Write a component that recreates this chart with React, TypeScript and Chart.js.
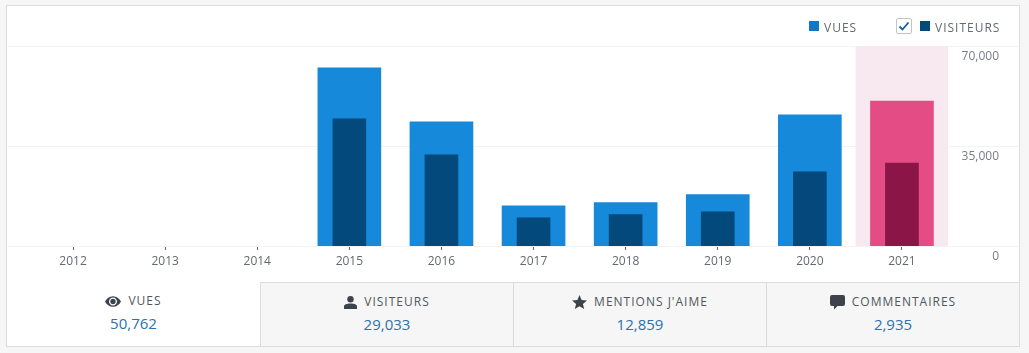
import React, { useEffect, useRef } from "react";
import { Chart, registerables } from "chart.js";

Chart.register(...registerables);

const years = ["2012", "2013", "2014", "2015", "2016", "2017", "2018", "2019", "2020", "2021"];
const vues = [null, null, null, 62400, 43500, 14100, 15200, 18000, 45900, 50762];
const visiteurs = [null, null, null, 44500, 31900, 9900, 11000, 12000, 26000, 29033];
const highlight = [null, null, null, null, null, null, null, null, null, 70000];
const yTicks = [0, 35000, 70000];

const tabLabels = ["VUES", "VISITEURS", "MENTIONS J'AIME", "COMMENTAIRES"];
const tabValues = ["50,762", "29,033", "12,859", "2,935"];

const FONT = '"Open Sans", "Noto Sans", sans-serif';
const BLUE = "#1689db";
const NAVY = "#03497c";
const PINK = "#e34c84";
const MAROON = "#8b1546";
const BAND = "#f8e8ef";

const fullWidthGrid = {
  id: "fullWidthGrid",
  beforeDatasetsDraw(chart: any) {
    const { ctx, scales, width } = chart;
    ctx.save();
    ctx.strokeStyle = "#f3f3f4";
    ctx.lineWidth = 1;
    yTicks.forEach((v) => {
      const y = Math.round(scales.y.getPixelForValue(v)) + 0.5;
      ctx.beginPath();
      ctx.moveTo(1, y);
      ctx.lineTo(width, y);
      ctx.stroke();
    });
    ctx.restore();
  },
};

const icons: React.ReactNode[] = [
  <svg width="16" height="11" viewBox="0 0 18 12" key="e">
    <path fillRule="evenodd" fill="#3c434a" d="M9 0C5 0 1.800 2.400 0 6c1.800 3.600 5 6 9 6s7.200-2.400 9-6c-1.800-3.600-5-6-9-6zm0 10.500C6.500 10.500 4.500 8.500 4.500 6S6.500 1.500 9 1.500s4.500 2 4.500 4.500-2 4.500-4.500 4.500zM9 3a3 3 0 1 0 0 6 3 3 0 0 0 0-6z" />
  </svg>,
  <svg width="13" height="13" viewBox="0 0 13 13" key="p">
    <circle cx="6.500" cy="3.300" r="3.200" fill="#3c434a" />
    <path fill="#3c434a" d="M0 13v-2.500C0 8.600 2.500 7.500 6.500 7.500s6.500 1.100 6.500 3V13z" />
  </svg>,
  <svg width="15" height="14" viewBox="0 0 15 14" key="s">
    <path fill="#3c434a" d="M7.500 0l2.100 4.900 5.400.5-4.100 3.500 1.300 5.100-4.700-2.800L2.800 14l1.300-5.100L0 5.400l5.400-.5z" />
  </svg>,
  <svg width="15" height="15" viewBox="0 0 15 15" key="c">
    <path fill="#3c434a" d="M2 0h11a2 2 0 0 1 2 2v7a2 2 0 0 1-2 2H7.500L4 14.500V11H2a2 2 0 0 1-2-2V2a2 2 0 0 1 2-2z" />
  </svg>,
];

const tabLefts = [0, 253, 506, 759];
const tabWidths = [253, 253, 253, 253];

export default function App() {
  const ref = useRef<HTMLCanvasElement>(null);

  useEffect(() => {
    const chart = new Chart(ref.current!, {
      type: "bar",
      data: {
        labels: years,
        datasets: [
          {
            label: "Visiteurs",
            data: visiteurs,
            backgroundColor: years.map((_, i) => (i === years.length - 1 ? MAROON : NAVY)),
            barThickness: 33,
            order: 1,
          },
          {
            label: "Vues",
            data: vues,
            backgroundColor: years.map((_, i) => (i === years.length - 1 ? PINK : BLUE)),
            barThickness: 63,
            order: 2,
          },
          {
            label: "Période",
            data: highlight,
            backgroundColor: BAND,
            barPercentage: 1,
            categoryPercentage: 1,
            order: 3,
          },
        ],
      },
      plugins: [fullWidthGrid],
      options: {
        animation: false,
        responsive: false,
        maintainAspectRatio: false,
        datasets: { bar: { grouped: false } },
        layout: { padding: { left: 20, right: 19, top: 40, bottom: 0 } },
        plugins: { legend: { display: false }, tooltip: { enabled: false } },
        scales: {
          x: {
            afterFit(s: any) {
              s.height = 36;
            },
            border: { display: false },
            grid: { offset: false, drawOnChartArea: false, drawTicks: true, tickLength: 4, color: "#646970" },
            ticks: {
              color: "#646970",
              padding: 4,
              maxRotation: 0,
              font: { family: FONT, size: 12 },
            },
          },
          y: {
            position: "right",
            min: 0,
            max: 70000,
            afterFit(s: any) {
              s.width = 51;
            },
            afterBuildTicks(s: any) {
              s.ticks = yTicks.map((value) => ({ value }));
            },
            border: { display: false },
            grid: { display: false },
            ticks: {
              color: "#787c82",
              crossAlign: "far",
              labelOffset: 11,
              font: { family: FONT, size: 12 },
              callback: (v: any) => Number(v).toLocaleString("en-US"),
            },
          },
        },
      },
    } as any);
    return () => chart.destroy();
  }, []);

  const legendText: React.CSSProperties = {
    position: "absolute",
    top: 14,
    fontSize: 12,
    lineHeight: "15px",
    letterSpacing: 1,
    color: "#646970",
    whiteSpace: "nowrap",
  };

  return (
    <div style={{ position: "absolute", left: 0, top: 0, width: 1029, height: 353, background: "#f6f6f6", fontFamily: FONT, overflow: "hidden" }}>
      <div style={{ position: "absolute", left: 6, top: 5, width: 1012, height: 340, border: "1px solid #dcdcde", background: "#fff" }}>
        <canvas ref={ref} width={1011} height={276} style={{ position: "absolute", left: 0, top: 0, display: "block" }} />
        <div style={{ position: "absolute", left: 802, top: 15, width: 10, height: 10, background: "#1277c4" }} />
        <div style={{ ...legendText, left: 817 }}>VUES</div>
        <div style={{ position: "absolute", left: 889, top: 12, width: 14, height: 14, border: "1px solid #c3c4c7", borderRadius: 2, background: "#fff" }}>
          <svg width="14" height="14" viewBox="0 0 14 14" style={{ display: "block" }}>
            <path d="M2.500 7.500L5.500 10.500L11.500 3.500" stroke="#135e96" strokeWidth="1.800" fill="none" />
          </svg>
        </div>
        <div style={{ position: "absolute", left: 913, top: 15, width: 10, height: 10, background: "#004a7b" }} />
        <div style={{ ...legendText, left: 928 }}>VISITEURS</div>

        {tabLabels.map((label, i) => (
          <div
            key={label}
            style={{
              position: "absolute",
              left: tabLefts[i],
              top: 276,
              width: tabWidths[i],
              height: 64,
              boxSizing: "border-box",
              background: i === 0 ? "#fff" : "#f6f6f6",
              borderTop: i === 0 ? "none" : "1px solid #dcdcde",
              borderLeft: i === 0 ? "none" : "1px solid #dcdcde",
              textAlign: "center",
            }}
          >
            <div style={{ position: "absolute", left: 0, right: 0, top: 10, height: 18, display: "flex", alignItems: "center", justifyContent: "center", gap: 7 }}>
              {icons[i]}
              <span style={{ fontSize: 12, letterSpacing: 1, color: "#50575e", lineHeight: "18px" }}>{label}</span>
            </div>
            <div style={{ position: "absolute", left: 0, right: 0, top: 30, fontSize: 15, lineHeight: "22px", color: "#2b72ad" }}>{tabValues[i]}</div>
          </div>
        ))}
      </div>
    </div>
  );
}
